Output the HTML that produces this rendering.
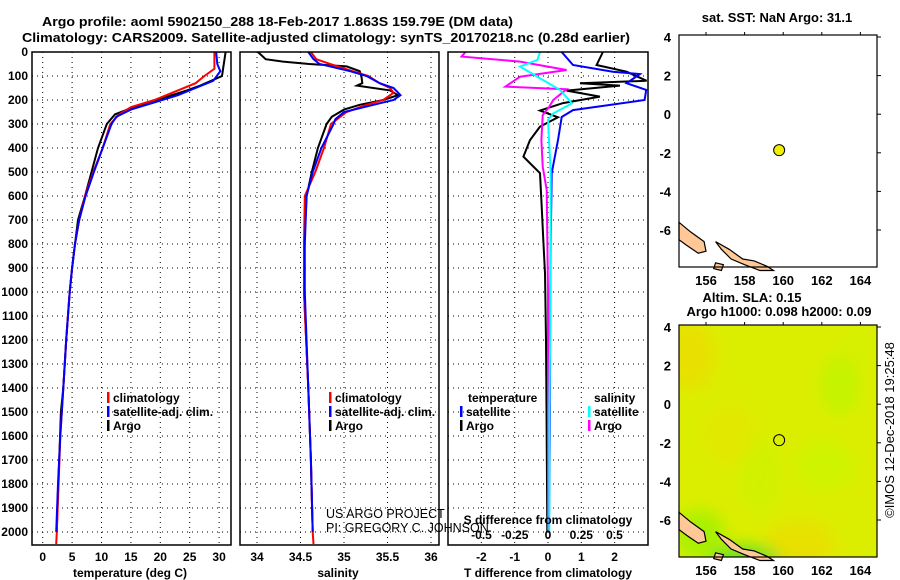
<!DOCTYPE html>
<html><head><meta charset="utf-8"><style>
html,body{margin:0;padding:0;background:#fff;}
svg{display:block;font-family:"Liberation Sans",Arial,sans-serif;}
.b{font-weight:bold;font-size:13px;fill:#000;}
.t{font-weight:bold;font-size:12px;fill:#000;}
.grid{stroke:#000;stroke-width:1;stroke-dasharray:1,4;}
</style></head><body>
<svg id="c" width="900" height="580" viewBox="0 0 900 580" xmlns="http://www.w3.org/2000/svg">
<text class="b" x="42" y="26" textLength="471" lengthAdjust="spacingAndGlyphs">Argo profile: aoml 5902150_288 18-Feb-2017 1.863S 159.79E (DM data)</text>
<text class="b" x="22" y="42" textLength="608" lengthAdjust="spacingAndGlyphs">Climatology: CARS2009. Satellite-adjusted climatology: synTS_20170218.nc (0.28d earlier)</text>
<g id="g"></g>
</svg>
<script>
// ---- profile data (depth in m) ----
const tempClimDepth = [0,70,100,130,170,200,230,260,300,400,500,600,700,800,900,1000,1200,1400,1600,1800,2000,2050];
const tempClim      = [29.2,29.2,27.5,26,22,19,15,13,11.5,10.2,8.6,7.2,6.2,5.5,5.0,4.6,4.0,3.5,3.0,2.7,2.4,2.3];
const tempSatDepth  = [0,50,80,120,150,180,210,240,270,300,400,500,600,700,800,900,1000,1200,1400,1600,1800,2000];
const tempSat       = [29.5,29.7,30.2,29,26,23,19,15,12.5,11.7,10.2,8.7,7.3,6.2,5.5,5.0,4.6,4.0,3.5,3.0,2.6,2.3];
const tempArgoDepth = [0,100,140,160,200,230,260,300,400,500,600,700,800,900,1000,1200,1400,1500,1700,1900,2000];
const tempArgo      = [31.1,30.5,26.8,24.5,19.4,15.4,12.3,10.9,9.4,8.3,7.2,6.0,5.5,5.0,4.6,4.0,3.5,3.1,2.8,2.5,2.4];

const salClimDepth = [0,30,50,80,100,130,150,170,200,220,250,300,400,500,600,800,1000,1400,1700,2000,2050];
const salClim      = [34.62,34.68,34.84,35.1,35.28,35.41,35.53,35.57,35.45,35.26,35.03,34.85,34.77,34.67,34.55,34.54,34.54,34.59,34.62,34.64,34.65];
const salSatDepth  = [0,30,50,80,100,130,150,180,200,220,250,280,300,400,500,600,800,1000,1400,1700,2000];
const salSat       = [34.59,34.65,34.72,35.07,35.26,35.41,35.57,35.65,35.57,35.34,35.0,34.9,34.88,34.74,34.64,34.57,34.55,34.55,34.59,34.62,34.64];
const salArgoDepth = [0,30,40,50,60,80,100,130,140,160,180,200,220,240,270,300,400,500,600,800,1000,1400,1700,2000];
const salArgo      = [34.01,34.1,34.3,34.6,35.03,35.18,35.2,35.21,35.15,35.53,35.62,35.45,35.18,35.0,34.86,34.8,34.7,34.63,34.57,34.54,34.54,34.59,34.62,34.64];

const dTSatDepth  = [0,54,82,92,130,158,200,242,271,367,505,800,1200,1600,2000];
const dTSat       = [0.41,0.75,1.95,2.76,2.36,2.95,2.9,0.75,0.41,0.3,0.11,0.08,0.06,0.05,0.03];
const dTArgoDepth = [0,54,82,120,130,140,161,186,213,244,272,311,367,436,505,644,783,922,1200,1600,2000];
const dTArgo      = [1.65,1.46,2.36,2.96,0.96,2.16,0.56,1.56,0.45,-0.24,0.3,-0.24,-0.54,-0.74,-0.24,-0.19,-0.14,-0.09,-0.06,-0.04,-0.02];
const dSArgoDepth = [0,19,40,75,103,144,155,200,228,263,367,478,575,1000,1500,2000];
const dSArgo      = [-0.62,-0.65,-0.21,0.14,-0.21,-0.32,0.14,0.04,0.01,-0.04,-0.05,-0.04,-0.01,0,0,0];
const dSSatDepth  = [0,33,61,103,158,214,256,283,500,1000,1500,2000];
const dSSat       = [-0.06,-0.08,-0.21,-0.08,0.09,0.18,0.04,0.0,0.02,0.02,0.01,0.01];

const depthTicks = [0,100,200,300,400,500,600,700,800,900,1000,1100,1200,1300,1400,1500,1600,1700,1800,1900,2000];
const tempTicks = [0,5,10,15,20,25,30];
const salTicks = [34,34.5,35,35.5,36];
const salTickLabels = ["34","34.5","35","35.5","36"];
const dTTicks = [-2,-1,0,1,2];
const dSTicks = [-0.5,-0.25,0,0.25,0.5];
const dSTickLabels = ["-0.5","-0.25","0","0.25","0.5"];
const latTicks = [4,2,0,-2,-4,-6];
const lonTicks = [156,158,160,162,164];
const floatLon = 159.79, floatLat = -1.863;

const NS='http://www.w3.org/2000/svg';
const G=document.getElementById('g');
function el(tag,attrs,parent,txt){const e=document.createElementNS(NS,tag);for(const k in attrs)e.setAttribute(k,attrs[k]);if(txt!==undefined)e.textContent=txt;(parent||G).appendChild(e);return e;}

const yD = d => 52 + d*0.24;
const PT=52, PB=545;
const xT = v => 42.7 + v*5.88;
const xS = v => 257 + (v-34)*87;
const xdT = v => 548 + v*33.3;
const xdS = v => 548 + v*133;

function panel(x0,x1,name,xticks,xf,labels,xlabel,xlabelX){
  const g=el('g',{});
  
  
  depthTicks.forEach(d=>{const l=el('line',{x1:x0,x2:x1,y1:yD(d),y2:yD(d),class:'grid'},g);});
  xticks.forEach(v=>{const l=el('line',{x1:xf(v),x2:xf(v),y1:PT,y2:PB,class:'grid'},g);});
  if(labels){xticks.forEach((v,i)=>{const t=el('text',{x:xf(v),y:561,class:'t','text-anchor':'middle'},g,labels[i]);});}
  if(xlabel){const t=el('text',{x:xlabelX,y:577,class:'t','text-anchor':'middle'},g,xlabel);}
  return g;
}
function line(g,depths,vals,xf,color,name,w){
  const pts=depths.map((d,i)=>xf(vals[i]).toFixed(1)+','+yD(d).toFixed(1)).join(' ');
  const p=el('polyline',{points:pts,fill:'none',stroke:color,'stroke-width':w||2},g);
  
  
}
function frame(g,x0,x1){const r=el('rect',{x:x0,y:PT,width:x1-x0,height:PB-PT,fill:'none',stroke:'#000','stroke-width':1.5},g);}

// depth labels
depthTicks.forEach(d=>{const t=el('text',{x:28,y:yD(d)+4,class:'t','text-anchor':'end'},G,String(d));});

// panel 1
const p1=panel(32,231,'temperature-panel',tempTicks,xT,tempTicks.map(String),'temperature (deg C)',130);
line(p1,tempArgoDepth,tempArgo,xT,'#000','temp-argo-line');
line(p1,tempClimDepth,tempClim,xT,'#f00','temp-climatology-line');
line(p1,tempSatDepth,tempSat,xT,'#00f','temp-satellite-line');
frame(p1,32,231);
function legend(g,x,y,items){items.forEach((it,i)=>{const r=el('rect',{x:x,y:y+i*14-10,width:2.5,height:11,fill:it[0]},g);const t=el('text',{x:x+6,y:y+i*14,class:'t'},g,it[1]);});}
legend(p1,107,402,[['#f00','climatology'],['#00f','satellite-adj. clim.'],['#000','Argo']]);

// panel 2
const p2=panel(240,439,'salinity-panel',salTicks,xS,salTickLabels,'salinity',338);
line(p2,salArgoDepth,salArgo,xS,'#000','sal-argo-line');
line(p2,salClimDepth,salClim,xS,'#f00','sal-climatology-line');
line(p2,salSatDepth,salSat,xS,'#00f','sal-satellite-line');
frame(p2,240,439);
legend(p2,329,402,[['#f00','climatology'],['#00f','satellite-adj. clim.'],['#000','Argo']]);
const c1=el('text',{x:326,y:518,'font-size':'12.5',fill:'#000'},p2,'US ARGO PROJECT');
const c2=el('text',{x:326,y:532,'font-size':'12.5',fill:'#000'},p2,'PI: GREGORY C. JOHNSON');

// panel 3
const p3=panel(448,648,'difference-panel',dTTicks,xdT,dTTicks.map(String),'T difference from climatology',548);
line(p3,dTArgoDepth,dTArgo,xdT,'#000','dT-argo-line');
line(p3,dTSatDepth,dTSat,xdT,'#00f','dT-satellite-line');
line(p3,dSArgoDepth,dSArgo,xdS,'#f0f','dS-argo-line');
line(p3,dSSatDepth,dSSat,xdS,'#0ff','dS-satellite-line');
frame(p3,448,648);
const lt=el('text',{x:468,y:402,class:'t'},p3,'temperature');
legend(p3,460,416,[['#00f','satellite'],['#000','Argo']]);
const ls=el('text',{x:594,y:402,class:'t'},p3,'salinity');
legend(p3,588,416,[['#0ff','satellite'],['#f0f','Argo']]);
const st=el('text',{x:548,y:524,class:'t','text-anchor':'middle'},p3,'S difference from climatology');
dSTicks.forEach((v,i)=>{const t=el('text',{x:xdS(v),y:539,class:'t','text-anchor':'middle'},p3,dSTickLabels[i]);});

// maps
const MX0=679,MX1=877;
const lonX = v => 706 + (v-156)*19.3;
function mapPanel(top,name,bg){
  const latY = v => top+2 + (4-v)*19.3;
  const g=el('g',{});
  
  
  const H=232;
  if(bg){
    el('defs',{},g).innerHTML='<filter id="bl"><feGaussianBlur stdDeviation="8"/></filter><clipPath id="cp"><rect x="'+MX0+'" y="'+top+'" width="'+(MX1-MX0)+'" height="'+H+'"/></clipPath>';
    const bgR=el('rect',{x:MX0,y:top,width:MX1-MX0,height:H,fill:'#dcee00'},g);
    const gg=el('g',{'clip-path':'url(#cp)',filter:'url(#bl)'},g);
    [[690,60,25,35,'#e8e000'],[840,90,20,30,'#c4f300'],[825,170,30,25,'#cff400'],[800,250,35,25,'#e8e000'],[700,240,25,25,'#a8f000'],[745,265,35,15,'#70e020'],[760,180,20,40,'#d0f200'],[860,50,20,20,'#d6f000'],[730,140,25,30,'#e2e800']].forEach(c=>{el('ellipse',{cx:c[0],cy:top+c[1]-30,rx:c[2],ry:c[3],fill:c[4]},gg);});
  }
  // land (Solomon Islands)
  const isl=[[[154.6,-5.6],[155.2,-6.1],[155.9,-6.6],[156.0,-7.1],[155.6,-7.2],[155.0,-6.8],[154.6,-6.5]],
             [[156.5,-6.6],[157.2,-7.0],[157.9,-7.5],[158.5,-7.6],[159.2,-7.9],[159.5,-8.1],[158.8,-8.1],[158.0,-7.8],[157.3,-7.5],[156.8,-7.0]],
             [[156.5,-7.7],[156.9,-7.8],[156.8,-8.1],[156.4,-8.0]]];
  isl.forEach(poly=>{const p=el('polygon',{points:poly.map(q=>lonX(q[0]).toFixed(1)+','+latY(q[1]).toFixed(1)).join(' '),fill:'#ffc896',stroke:'#000','stroke-width':1.2},g);});
  const fr=el('rect',{x:MX0,y:top,width:MX1-MX0,height:H,fill:'none',stroke:'#000','stroke-width':1.2},g);
  latTicks.forEach(v=>{const t=el('text',{x:671,y:latY(v)+5,class:'b','text-anchor':'end'},g,String(v));
    el('line',{x1:MX1,x2:MX1+4,y1:latY(v),y2:latY(v),stroke:'#000'},g);});
  lonTicks.forEach(v=>{const t=el('text',{x:lonX(v),y:top+H+18,class:'b','text-anchor':'middle'},g,String(v));
    el('line',{x1:lonX(v),x2:lonX(v),y1:top,y2:top-3,stroke:'#000'},g);});
  const dot=el('circle',{cx:lonX(floatLon),cy:latY(floatLat),r:5.5,fill:bg?'none':'#f0f000',stroke:'#000','stroke-width':1},g);
  
  
  return g;
}
mapPanel(35,'sst-map',false);
const mt=el('text',{x:777,y:22,class:'b','text-anchor':'middle'},G,'sat. SST: NaN Argo: 31.1');
mapPanel(325,'sla-map',true);
const m2=el('text',{x:752,y:302,class:'b','text-anchor':'middle'},G,'Altim. SLA: 0.15');
const m3=el('text',{x:779,y:316,class:'b','text-anchor':'middle'},G,'Argo h1000: 0.098 h2000: 0.09');
const cr=el('text',{x:0,y:0,'font-size':'13',fill:'#000','text-anchor':'middle',transform:'translate(894,430) rotate(-90)'},G,'©IMOS 12-Dec-2018 19:25:48');
</script>
</body></html>
